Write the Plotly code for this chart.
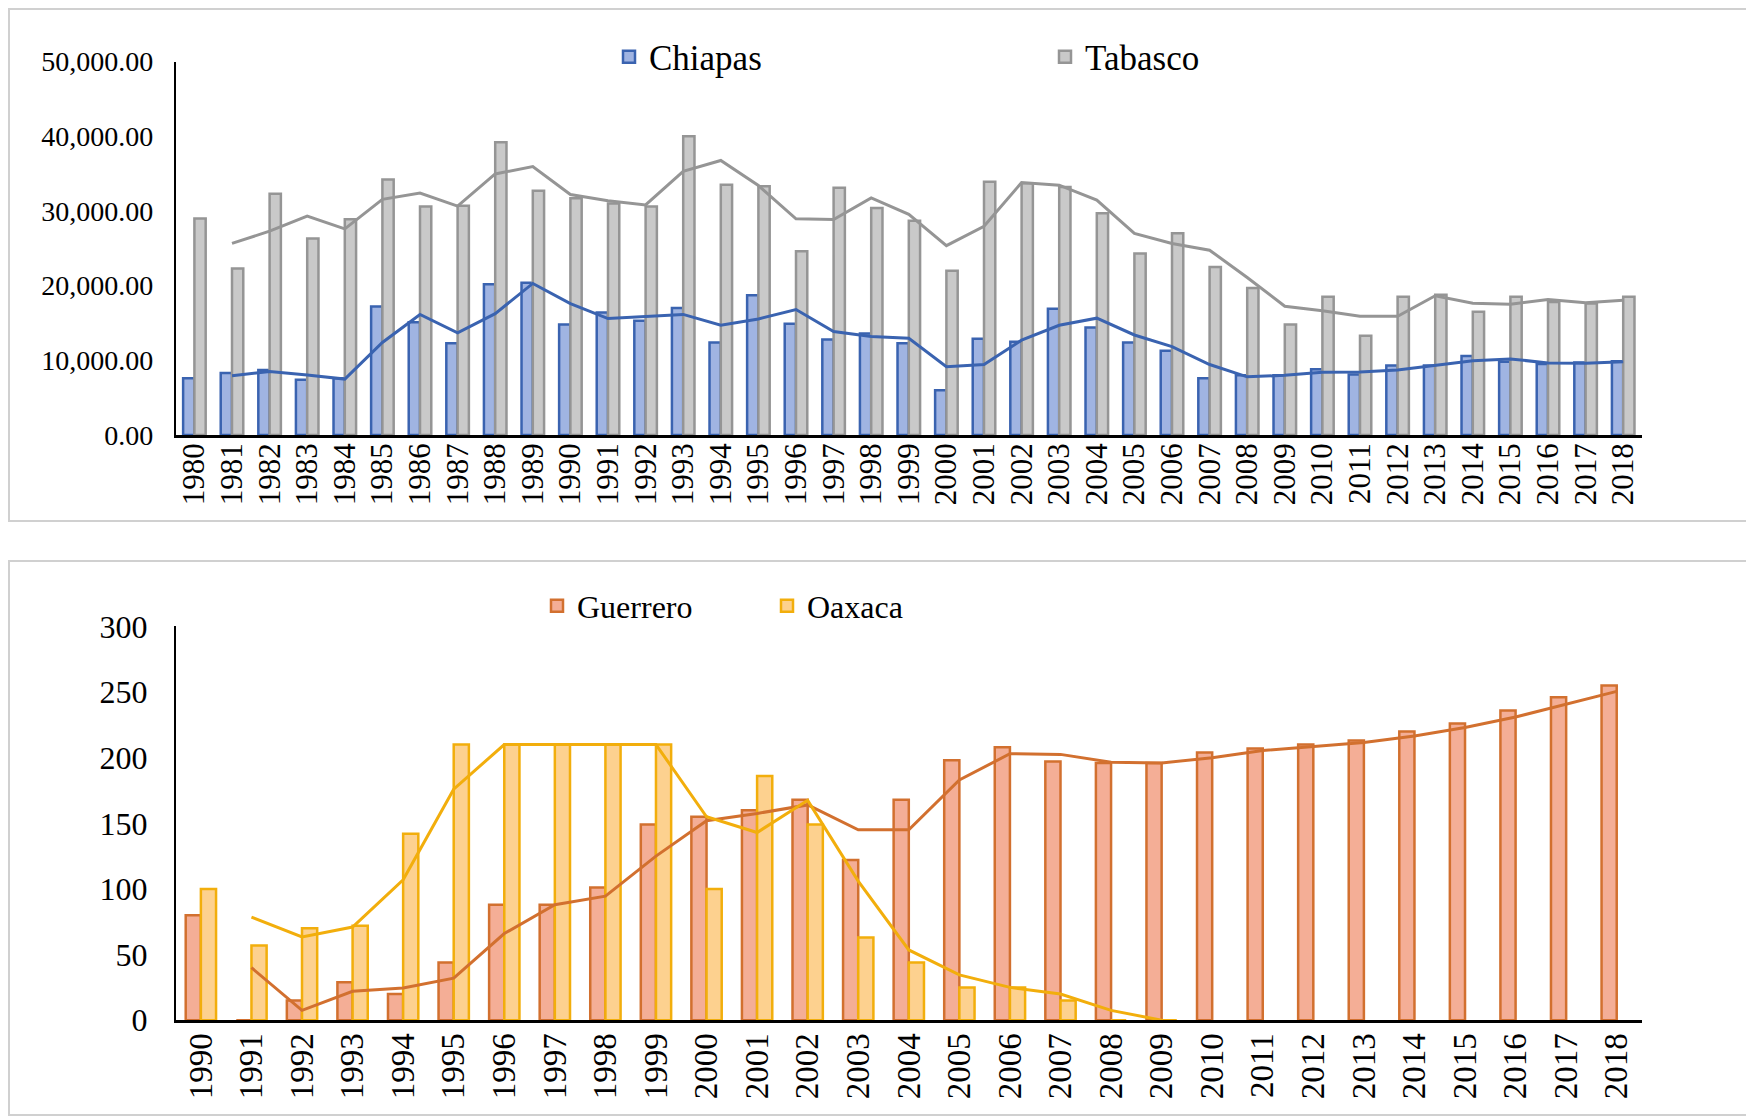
import plotly.graph_objects as go

# ---------------- data ----------------
years_top = [str(y) for y in range(1980, 2019)]
chiapas = [7600, 8300, 8700, 7400, 7600, 17200, 15100, 12300, 20200, 20400,
           14800, 16400, 15300, 17000, 12400, 18700, 14900, 12800, 13600, 12300,
           6000, 12900, 12500, 16900, 14400, 12400, 11300, 7600, 8000, 8000,
           8800, 8100, 9300, 9300, 10600, 9800, 9500, 9700, 9900]
tabasco = [29000, 22300, 32300, 26300, 28900, 34200, 30600, 30700, 39200, 32700,
           31700, 31000, 30600, 40000, 33500, 33300, 24600, 33100, 30400, 28700,
           22000, 33900, 33700, 33200, 29700, 24300, 27000, 22500, 19700, 14800,
           18500, 13300, 18500, 18800, 16500, 18500, 17800, 17600, 18500]

years_bot = [str(y) for y in range(1990, 2019)]
guerrero = [80, 0, 15, 29, 20, 44, 88, 88, 101, 149,
            155, 160, 168, 122, 168, 198, 208, 197, 196, 196,
            204, 207, 210, 213, 220, 226, 236, 246, 255]
oaxaca = [100, 57, 70, 72, 142, 210, 210, 210, 210, 210,
          100, 186, 149, 63, 44, 25, 25, 15, 0, 0,
          None, None, None, None, None, None, None, None, None]

top_ticks = [0, 10000, 20000, 30000, 40000, 50000]
bot_ticks = [0, 50, 100, 150, 200, 250, 300]


def moving_avg(vals):
    """2-period moving average trendline (as drawn by the spreadsheet)."""
    out = [None]
    for a, b in zip(vals[:-1], vals[1:]):
        out.append(None if a is None or b is None else (a + b) / 2)
    return out


W, H = 1754, 1117
OFF = 8  # page offset of the figure (body margin)
FONT = "Liberation Serif"

C_BLUE_FILL, C_BLUE_LINE = "#a0b4e2", "#3a63b0"
C_GRAY_FILL, C_GRAY_LINE = "#c9c9c9", "#959595"
C_GUE_FILL, C_GUE_LINE = "#f4ae96", "#d2702f"
C_OAX_FILL, C_OAX_LINE = "#fdd18f", "#f2ae0c"

fig = go.Figure()

# top panel
fig.add_trace(go.Bar(x=years_top, y=chiapas, name="Chiapas", xaxis="x", yaxis="y",
                     marker=dict(color=C_BLUE_FILL, line=dict(color=C_BLUE_LINE, width=2.5)),
                     legend="legend"))
fig.add_trace(go.Bar(x=years_top, y=tabasco, name="Tabasco", xaxis="x", yaxis="y",
                     marker=dict(color=C_GRAY_FILL, line=dict(color=C_GRAY_LINE, width=2.5)),
                     legend="legend"))
fig.add_trace(go.Scatter(x=years_top, y=moving_avg(chiapas), mode="lines", xaxis="x", yaxis="y",
                         line=dict(color=C_BLUE_LINE, width=3), showlegend=False, connectgaps=False))
fig.add_trace(go.Scatter(x=years_top, y=moving_avg(tabasco), mode="lines", xaxis="x", yaxis="y",
                         line=dict(color=C_GRAY_LINE, width=3), showlegend=False, connectgaps=False))

# bottom panel
fig.add_trace(go.Bar(x=years_bot, y=guerrero, name="Guerrero", xaxis="x2", yaxis="y2",
                     marker=dict(color=C_GUE_FILL, line=dict(color=C_GUE_LINE, width=2.5)),
                     legend="legend2"))
fig.add_trace(go.Bar(x=years_bot, y=oaxaca, name="Oaxaca", xaxis="x2", yaxis="y2",
                     marker=dict(color=C_OAX_FILL, line=dict(color=C_OAX_LINE, width=2.5)),
                     legend="legend2"))
fig.add_trace(go.Scatter(x=years_bot, y=moving_avg(guerrero), mode="lines", xaxis="x2", yaxis="y2",
                         line=dict(color=C_GUE_LINE, width=3), showlegend=False, connectgaps=False))
fig.add_trace(go.Scatter(x=years_bot, y=moving_avg(oaxaca), mode="lines", xaxis="x2", yaxis="y2",
                         line=dict(color=C_OAX_LINE, width=3), showlegend=False, connectgaps=False))


def py(v):
    return 1 - v / H


def px(v):
    return v / W


xdom = [px(175.6 - OFF), px(1642 - OFF)]

fig.update_layout(
    width=W, height=H,
    margin=dict(l=0, r=0, t=0, b=0, autoexpand=False),
    paper_bgcolor="white", plot_bgcolor="white",
    font=dict(family=FONT, color="black"),
    barmode="group", bargap=0.4, bargroupgap=0.0,
    xaxis=dict(domain=xdom, anchor="y", type="category", tickangle=-90,
               tickmode="array", tickvals=years_top, ticktext=years_top,
               showline=True, linecolor="black", linewidth=2.5, showgrid=False,
               ticks="", tickfont=dict(size=31, family=FONT), ticklabelstandoff=-7,
               automargin=False),
    yaxis=dict(domain=[py(435.1 - OFF), py(61.5 - OFF)], anchor="x", range=[0, 50000],
               tickvals=top_ticks, tickformat=",.2f",
               showline=True, linecolor="black", linewidth=1.5, showgrid=False,
               zeroline=False, ticks="", tickfont=dict(size=28, family=FONT),
               ticklabelstandoff=15, automargin=False),
    xaxis2=dict(domain=xdom, anchor="y2", type="category", tickangle=-90,
                tickmode="array", tickvals=years_bot, ticktext=years_bot,
                showline=True, linecolor="black", linewidth=2.5, showgrid=False,
                ticks="", tickfont=dict(size=33, family=FONT), ticklabelstandoff=-3,
                automargin=False),
    yaxis2=dict(domain=[py(1020.2 - OFF), py(626.4 - OFF)], anchor="x2", range=[0, 300],
                tickvals=bot_ticks, showline=True, linecolor="black", linewidth=1.5,
                showgrid=False, zeroline=False, ticks="",
                tickfont=dict(size=32, family=FONT), ticklabelstandoff=20,
                automargin=False),
    legend=dict(orientation="h", x=px(601), xanchor="left", y=py(49), yanchor="middle",
                font=dict(size=35, family=FONT), entrywidth=391, entrywidthmode="pixels",
                bgcolor="rgba(0,0,0,0)", borderwidth=0),
    legend2=dict(orientation="h", x=px(529), xanchor="left", y=py(598), yanchor="middle",
                 font=dict(size=32, family=FONT), entrywidth=185, entrywidthmode="pixels",
                 bgcolor="rgba(0,0,0,0)", borderwidth=0),
    shapes=[
        dict(type="rect", xref="paper", yref="paper", x0=px(1), x1=px(1752 - OFF),
             y0=py(521 - OFF), y1=py(1),
             line=dict(color="#d0d0d0", width=2), fillcolor="rgba(0,0,0,0)", layer="below"),
        dict(type="rect", xref="paper", yref="paper", x0=px(1), x1=px(1752 - OFF),
             y0=py(1115 - OFF), y1=py(561 - OFF),
             line=dict(color="#d0d0d0", width=2), fillcolor="rgba(0,0,0,0)", layer="below"),
    ],
)

fig.write_html("out.html")
